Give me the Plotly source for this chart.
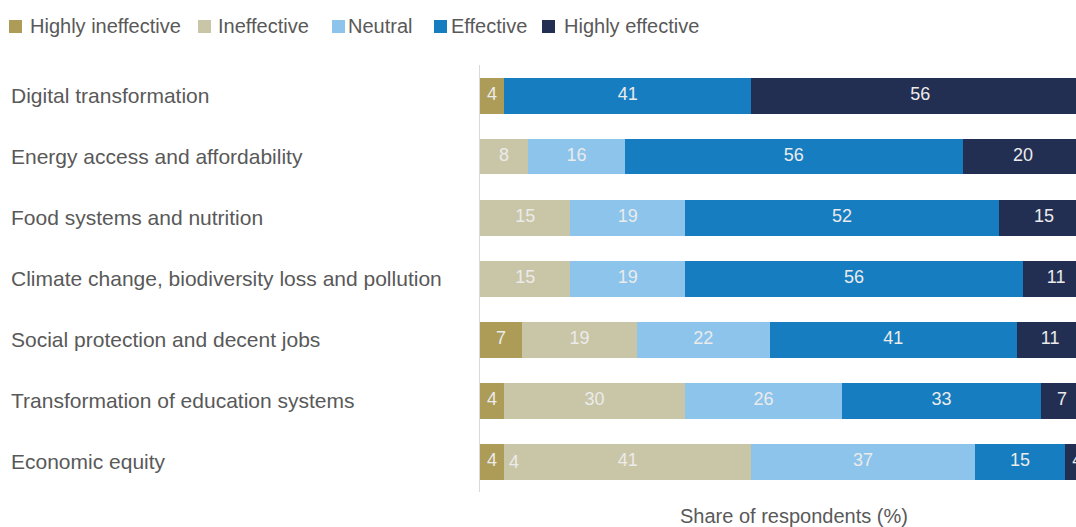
import numpy as np
import plotly.graph_objects as go

# Survey: perceived effectiveness by transition area
categories = [
    "Digital transformation",
    "Energy access and affordability",
    "Food systems and nutrition",
    "Climate change, biodiversity loss and pollution",
    "Social protection and decent jobs",
    "Transformation of education systems",
    "Economic equity",
]
series_names = ["Highly ineffective", "Ineffective", "Neutral", "Effective", "Highly effective"]

highly_ineffective = [4, 0, 0, 0, 7, 4, 4]
ineffective = [0, 8, 15, 15, 19, 30, 41]
neutral = [0, 16, 19, 19, 22, 26, 37]
effective = [41, 56, 52, 56, 41, 33, 15]
highly_effective = [56, 20, 15, 11, 11, 7, 4]

colors = ["#AD9C58", "#C9C6A7", "#8CC4EB", "#167DC1", "#232F52"]

series_values = [highly_ineffective, ineffective, neutral, effective, highly_effective]

FONT = "Liberation Sans, Arial, sans-serif"
TEXT_GREY = "#595959"

# figure geometry (pixels)
W, H = 1076, 527
M_L, M_R, M_T, M_B = 480, 0, 65, 35
PLOT_W = W - M_L - M_R
PLOT_H = H - M_T - M_B


def px_x(px):
    return (px - M_L) / PLOT_W


def px_y(py):
    return (H - M_B - py) / PLOT_H


fig = go.Figure()

for name, vals, col in zip(series_names, series_values, colors):
    fig.add_trace(go.Bar(
        y=categories, x=vals, name=name, orientation="h",
        marker=dict(color=col, line=dict(width=0)),
        textposition="none", hoverinfo="x+y+name", showlegend=False,
    ))

# value labels centred in each segment (skip empty segments)
cum = np.zeros(len(categories))
lx, ly, lt = [], [], []
for vals in series_values:
    v = np.array(vals, dtype=float)
    mids = cum + v / 2
    for i, val in enumerate(vals):
        if val > 0:
            lx.append(mids[i]); ly.append(categories[i]); lt.append(str(val))
    cum += v

fig.add_trace(go.Scatter(
    x=lx, y=ly, text=lt, mode="text", showlegend=False, hoverinfo="skip",
    textfont=dict(family=FONT, size=18, color="#EBEBEB"),
    cliponaxis=True,
))

# secondary label on the last row, just right of its first segment
fig.add_annotation(
    x=highly_ineffective[-1], y=categories[-1], xref="x", yref="y",
    text=str(highly_ineffective[-1]), showarrow=False, xanchor="left", xshift=3,
    font=dict(family=FONT, size=18, color="#EBEBEB"),
)

# left-aligned category labels
for c in categories:
    fig.add_annotation(
        x=px_x(9), y=c, xref="paper", yref="y", text=c, showarrow=False,
        xanchor="left", yanchor="middle",
        font=dict(family=FONT, size=21, color=TEXT_GREY),
    )

# axis title
fig.add_annotation(
    x=52, y=0, xref="x", yref="paper", yshift=-24, text="Share of respondents (%)",
    showarrow=False, xanchor="center", yanchor="middle",
    font=dict(family=FONT, size=20, color=TEXT_GREY),
)

# single-row legend: swatch + label per series
legend_swatch_px = [9, 198, 332, 434, 542]
legend_text_px = [28, 216, 346, 449, 562]
for name, col, sx, tx in zip(series_names, colors, legend_swatch_px, legend_text_px):
    fig.add_shape(
        type="rect", xref="paper", yref="paper",
        x0=px_x(sx), x1=px_x(sx + 13), y0=px_y(33), y1=px_y(20),
        fillcolor=col, line=dict(width=0),
    )
    fig.add_annotation(
        x=px_x(tx), y=px_y(26), xref="paper", yref="paper", text=name,
        showarrow=False, xanchor="left", yanchor="middle",
        font=dict(family=FONT, size=20, color=TEXT_GREY),
    )

fig.update_layout(
    width=W, height=H,
    barmode="stack", bargap=0.41,
    plot_bgcolor="white", paper_bgcolor="white",
    margin=dict(l=M_L, r=M_R, t=M_T, b=M_B),
    font=dict(family=FONT, color=TEXT_GREY),
    showlegend=False,
    xaxis=dict(range=[0, 98.8], showticklabels=False, showgrid=False, zeroline=False,
               showline=False, fixedrange=True),
    yaxis=dict(categoryorder="array", categoryarray=categories, autorange="reversed",
               showticklabels=False, showgrid=False, zeroline=False,
               showline=True, linecolor="#D9D9D9", linewidth=1, fixedrange=True),
)

fig.write_html("out.html")
